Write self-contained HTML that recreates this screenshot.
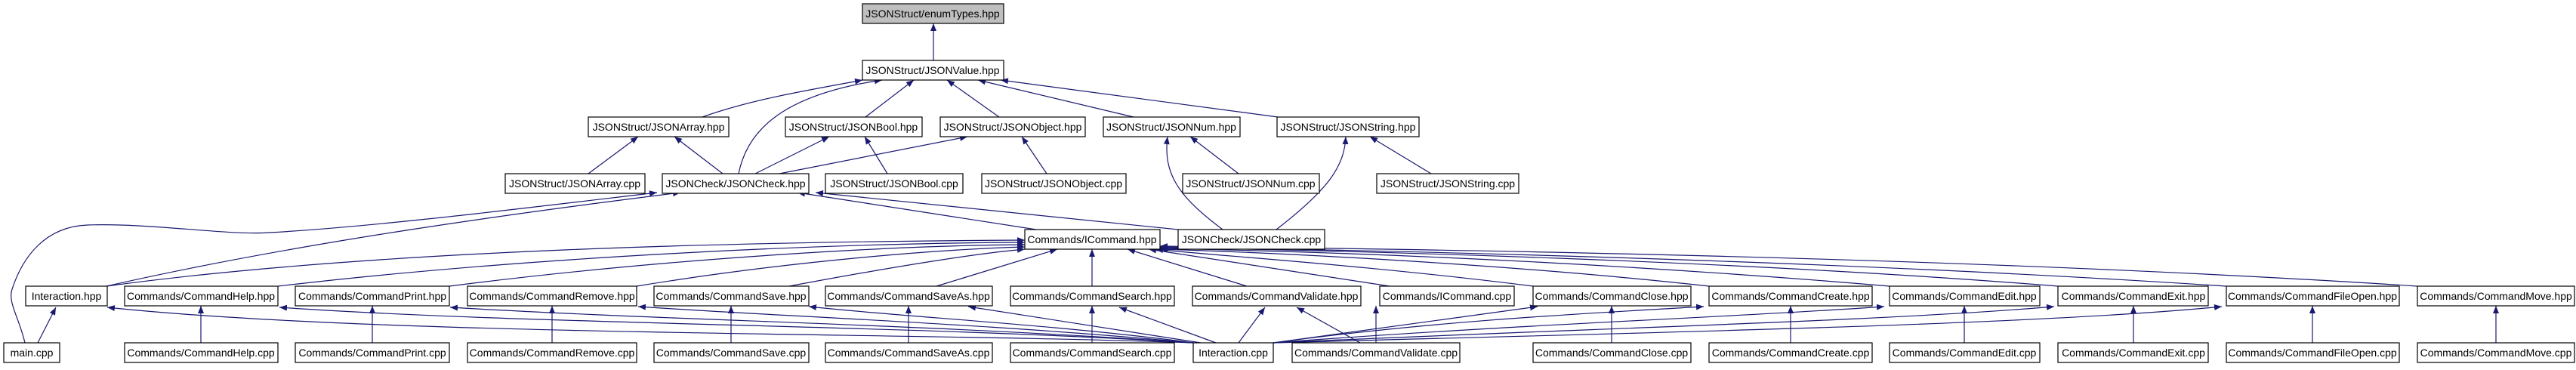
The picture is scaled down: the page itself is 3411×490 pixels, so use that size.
<!DOCTYPE html>
<html><head><meta charset="utf-8"><style>
html,body{margin:0;padding:0;background:#fff;}
svg text{font-family:"Liberation Sans",Arial,sans-serif;font-size:14px;fill:#000;}
</style></head><body>
<svg width="3411" height="485" viewBox="0 0 3411 485" xmlns="http://www.w3.org/2000/svg">
<defs>
<marker id="a" viewBox="0 0 10 8" refX="10" refY="4" markerWidth="10" markerHeight="8" markerUnits="userSpaceOnUse" orient="auto"><path d="M0,0L10,4L0,8z" fill="#191970"/></marker>
</defs>
<g fill="none" stroke="#191970" stroke-width="1.2" marker-end="url(#a)">
<path d="M1236,80L1236,31"/>
<path d="M930,155C1000,130 1080,118 1142,106"/>
<path d="M978,230C990,170 1040,125 1168,106"/>
<path d="M1146,155L1210,106"/>
<path d="M1323,155L1254,106"/>
<path d="M1501,155L1295,106"/>
<path d="M1692,155L1325,106"/>
<path d="M779,230L845,181"/>
<path d="M957,230L893,181"/>
<path d="M1000,230L1098,181"/>
<path d="M1032,230L1281,181"/>
<path d="M1175,230L1145,181"/>
<path d="M1386,230L1353,181"/>
<path d="M1640,230L1576,181"/>
<path d="M1895,230L1814,181"/>
<path d="M1619,304C1560,260 1540,230 1546,181"/>
<path d="M1690,304C1760,250 1780,220 1782,181"/>
<path d="M1372,304L1056,255"/>
<path d="M1560,304L1080,255"/>
<path d="M141,379C400,320 700,280 901,255"/>
<path d="M33,454C25,420 10,400 16,383C30,340 60,300 116,298C200,295 300,312 357,308C500,300 700,275 870,255"/>
<path d="M141,379C500,330 1000,320 1357,318"/>
<path d="M368,379C700,340 1100,322 1357,321"/>
<path d="M595,379C900,340 1200,325 1357,324"/>
<path d="M843,379C1050,345 1250,330 1357,327"/>
<path d="M1045,379C1200,350 1300,335 1357,330"/>
<path d="M1240,379L1400,330"/>
<path d="M1446,379L1446,330"/>
<path d="M1651,379L1493,330"/>
<path d="M1840,379L1521,330"/>
<path d="M2030,379C1800,350 1600,338 1530,330"/>
<path d="M2263,379C2000,350 1700,335 1536,330"/>
<path d="M2502,379C2100,345 1750,333 1536,329"/>
<path d="M2725,379C2300,345 1800,332 1536,328"/>
<path d="M2948,379C2400,343 1800,331 1536,327"/>
<path d="M3201,379C2600,340 1900,330 1536,326"/>
<path d="M266,454L266,405"/>
<path d="M493,454L493,405"/>
<path d="M731,454L731,405"/>
<path d="M968,454L968,405"/>
<path d="M1203,454L1203,405"/>
<path d="M1446,454L1446,405"/>
<path d="M1822,454L1822,405"/>
<path d="M2134,454L2134,405"/>
<path d="M2371,454L2371,405"/>
<path d="M2601,454L2601,405"/>
<path d="M2825,454L2825,405"/>
<path d="M3062,454L3062,405"/>
<path d="M3305,454L3305,405"/>
<path d="M50,454L74,407"/>
<path d="M1580,454C1200,440 500,445 142,407"/>
<path d="M1580,454C1200,430 700,430 370,407"/>
<path d="M1580,454C1200,428 900,425 596,407"/>
<path d="M1580,454C1300,428 1050,420 845,406"/>
<path d="M1580,454C1400,430 1200,420 1071,406"/>
<path d="M1590,454L1282,406"/>
<path d="M1610,454L1482,407"/>
<path d="M1640,454L1675,407"/>
<path d="M1801,454L1717,407"/>
<path d="M1686,454L2036,406"/>
<path d="M1686,454C1900,425 2100,415 2256,406"/>
<path d="M1686,454C2000,430 2300,420 2495,406"/>
<path d="M1686,454C2100,435 2500,425 2720,406"/>
<path d="M1686,454C2200,440 2700,430 2942,406"/>
</g>
<g stroke="#000" stroke-width="1.2" fill="#fff">
<rect x="1142" y="5" width="187" height="26" fill="#bfbfbf"/>
<rect x="1142" y="80" width="187" height="26"/>
<rect x="779" y="155" width="186" height="26"/>
<rect x="1040" y="155" width="181" height="26"/>
<rect x="1245" y="155" width="192" height="26"/>
<rect x="1461" y="155" width="181" height="26"/>
<rect x="1691" y="155" width="188" height="26"/>
<rect x="669" y="230" width="185" height="26"/>
<rect x="877" y="230" width="194" height="26"/>
<rect x="1093" y="230" width="182" height="26"/>
<rect x="1300" y="230" width="191" height="26"/>
<rect x="1566" y="230" width="181" height="26"/>
<rect x="1823" y="230" width="188" height="26"/>
<rect x="1357" y="304" width="179" height="26"/>
<rect x="1560" y="304" width="194" height="26"/>
<rect x="34" y="379" width="108" height="26"/>
<rect x="165" y="379" width="203" height="26"/>
<rect x="391" y="379" width="204" height="26"/>
<rect x="619" y="379" width="224" height="26"/>
<rect x="866" y="379" width="205" height="26"/>
<rect x="1093" y="379" width="221" height="26"/>
<rect x="1338" y="379" width="217" height="26"/>
<rect x="1579" y="379" width="223" height="26"/>
<rect x="1827" y="379" width="178" height="26"/>
<rect x="2030" y="379" width="209" height="26"/>
<rect x="2263" y="379" width="216" height="26"/>
<rect x="2502" y="379" width="199" height="26"/>
<rect x="2725" y="379" width="199" height="26"/>
<rect x="2948" y="379" width="229" height="26"/>
<rect x="3201" y="379" width="208" height="26"/>
<rect x="5" y="454" width="74" height="26"/>
<rect x="165" y="454" width="203" height="26"/>
<rect x="391" y="454" width="204" height="26"/>
<rect x="619" y="454" width="224" height="26"/>
<rect x="866" y="454" width="205" height="26"/>
<rect x="1093" y="454" width="221" height="26"/>
<rect x="1338" y="454" width="217" height="26"/>
<rect x="1580" y="454" width="106" height="26"/>
<rect x="1711" y="454" width="222" height="26"/>
<rect x="2030" y="454" width="209" height="26"/>
<rect x="2263" y="454" width="216" height="26"/>
<rect x="2502" y="454" width="199" height="26"/>
<rect x="2725" y="454" width="199" height="26"/>
<rect x="2948" y="454" width="229" height="26"/>
<rect x="3201" y="454" width="208" height="26"/>
</g>
<g text-anchor="middle">
<text x="1235" y="23">JSONStruct/enumTypes.hpp</text>
<text x="1235" y="98">JSONStruct/JSONValue.hpp</text>
<text x="872" y="173">JSONStruct/JSONArray.hpp</text>
<text x="1130" y="173">JSONStruct/JSONBool.hpp</text>
<text x="1341" y="173">JSONStruct/JSONObject.hpp</text>
<text x="1551" y="173">JSONStruct/JSONNum.hpp</text>
<text x="1785" y="173">JSONStruct/JSONString.hpp</text>
<text x="761" y="248">JSONStruct/JSONArray.cpp</text>
<text x="974" y="248">JSONCheck/JSONCheck.hpp</text>
<text x="1184" y="248">JSONStruct/JSONBool.cpp</text>
<text x="1395" y="248">JSONStruct/JSONObject.cpp</text>
<text x="1656" y="248">JSONStruct/JSONNum.cpp</text>
<text x="1917" y="248">JSONStruct/JSONString.cpp</text>
<text x="1446" y="322">Commands/ICommand.hpp</text>
<text x="1657" y="322">JSONCheck/JSONCheck.cpp</text>
<text x="88" y="397">Interaction.hpp</text>
<text x="266" y="397">Commands/CommandHelp.hpp</text>
<text x="493" y="397">Commands/CommandPrint.hpp</text>
<text x="731" y="397">Commands/CommandRemove.hpp</text>
<text x="968" y="397">Commands/CommandSave.hpp</text>
<text x="1203" y="397">Commands/CommandSaveAs.hpp</text>
<text x="1446" y="397">Commands/CommandSearch.hpp</text>
<text x="1690" y="397">Commands/CommandValidate.hpp</text>
<text x="1916" y="397">Commands/ICommand.cpp</text>
<text x="2134" y="397">Commands/CommandClose.hpp</text>
<text x="2371" y="397">Commands/CommandCreate.hpp</text>
<text x="2601" y="397">Commands/CommandEdit.hpp</text>
<text x="2825" y="397">Commands/CommandExit.hpp</text>
<text x="3062" y="397">Commands/CommandFileOpen.hpp</text>
<text x="3305" y="397">Commands/CommandMove.hpp</text>
<text x="42" y="472">main.cpp</text>
<text x="266" y="472">Commands/CommandHelp.cpp</text>
<text x="493" y="472">Commands/CommandPrint.cpp</text>
<text x="731" y="472">Commands/CommandRemove.cpp</text>
<text x="968" y="472">Commands/CommandSave.cpp</text>
<text x="1203" y="472">Commands/CommandSaveAs.cpp</text>
<text x="1446" y="472">Commands/CommandSearch.cpp</text>
<text x="1633" y="472">Interaction.cpp</text>
<text x="1822" y="472">Commands/CommandValidate.cpp</text>
<text x="2134" y="472">Commands/CommandClose.cpp</text>
<text x="2371" y="472">Commands/CommandCreate.cpp</text>
<text x="2601" y="472">Commands/CommandEdit.cpp</text>
<text x="2825" y="472">Commands/CommandExit.cpp</text>
<text x="3062" y="472">Commands/CommandFileOpen.cpp</text>
<text x="3305" y="472">Commands/CommandMove.cpp</text>
</g>
</svg>
</body></html>
